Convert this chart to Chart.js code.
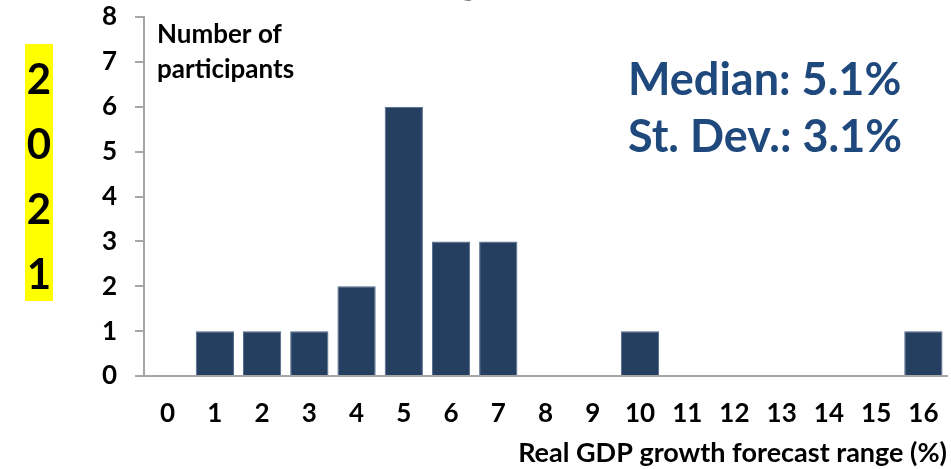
<!DOCTYPE html>
<html>
<head>
<meta charset="utf-8">
<script src="https://cdn.jsdelivr.net/npm/chart.js@4/dist/chart.umd.min.js"></script>
<style>
  html, body { margin: 0; padding: 0; background: #fff; }
  #wrap { width: 951px; height: 469px; }
</style>
</head>
<body>
<div id="wrap"><canvas id="grafico"></canvas></div>
<script>
// forecast range buckets (%) and number of participants in each
const ranges = ['0','1','2','3','4','5','6','7','8','9','10','11','12','13','14','15','16'];
const participants = [0, 1, 1, 1, 2, 6, 3, 3, 0, 0, 1, 0, 0, 0, 0, 0, 1];
const yearLabel = ['2','0','2','1'];
const statLines = ['Median: 5.1%', 'St. Dev.: 3.1%'];

const FONT = 'Lato, "Open Sans", sans-serif';
const axisGray = '#A6A6A6';

// extra text: clipped title, year stripe, y label, stats
const extras = {
  id: 'extras',
  afterDraw(chart) {
    const ctx = chart.ctx;
    ctx.save();
    // title mostly outside the canvas, only descenders show
    ctx.font = 'bold 40px ' + FONT;
    ctx.textBaseline = 'alphabetic';
    ctx.textAlign = 'right';
    ctx.fillStyle = '#000';
    ctx.fillText('Real GDP growth', 585, -7);
    ctx.textAlign = 'left';
    ctx.fillStyle = '#1F497D';
    ctx.fillText('(in 2021)', 595, -7);

    // year stripe
    ctx.fillStyle = '#FFFF00';
    ctx.fillRect(25, 44, 28, 257);
    ctx.fillStyle = '#000';
    ctx.font = 'bold 42px ' + FONT;
    ctx.textAlign = 'center';
    ctx.textBaseline = 'middle';
    const ys = [80, 145, 210, 275];
    yearLabel.forEach((d, i) => ctx.fillText(d, 39, ys[i]));

    // y axis label
    ctx.font = 'bold 26px ' + FONT;
    ctx.textAlign = 'left';
    ctx.fillText('Number of', 157, 35);
    ctx.fillText('participants', 157, 70);

    // stats
    ctx.font = 'bold 45px ' + FONT;
    ctx.fillStyle = '#1F497D';
    ctx.fillText(statLines[0], 628, 80, 274);
    ctx.fillText(statLines[1], 628, 137, 274);
    ctx.restore();
  }
};

new Chart(document.getElementById('grafico'), {
  type: 'bar',
  data: {
    labels: ranges,
    datasets: [{
      data: participants,
      backgroundColor: '#243F60',
      borderColor: '#4F6789',
      borderWidth: 1,
      barPercentage: 0.81,
      categoryPercentage: 1.0
    }]
  },
  options: {
    responsive: true,
    maintainAspectRatio: false,
    animation: false,
    events: [],
    layout: { padding: { top: 17, left: 0, right: 4, bottom: 0 } },
    plugins: {
      legend: { display: false },
      tooltip: { enabled: false }
    },
    scales: {
      x: {
        afterFit: s => { s.height = 93; s.paddingLeft = 0; s.paddingRight = 0; },
        grid: { display: false, drawTicks: false },
        border: { display: true, color: axisGray, width: 2 },
        ticks: { color: '#000', font: { family: FONT, size: 26, weight: 'bold' }, padding: 22, maxRotation: 0, autoSkip: false },
        title: {
          display: true,
          text: 'Real GDP growth forecast range (%)',
          align: 'end',
          color: '#000',
          font: { family: FONT, size: 27, weight: 'bold' },
          padding: { top: 0, bottom: 0 }
        }
      },
      y: {
        min: 0,
        max: 8,
        afterFit: s => { s.width = 144; s.paddingTop = 0; s.paddingBottom = 0; },
        grid: { drawOnChartArea: false, drawTicks: true, tickLength: 9, color: axisGray, lineWidth: 2 },
        border: { display: true, color: axisGray, width: 2 },
        ticks: { stepSize: 1, color: '#000', font: { family: FONT, size: 26, weight: 'bold' }, padding: 18 }
      }
    }
  },
  plugins: [extras]
});
</script>
</body>
</html>
